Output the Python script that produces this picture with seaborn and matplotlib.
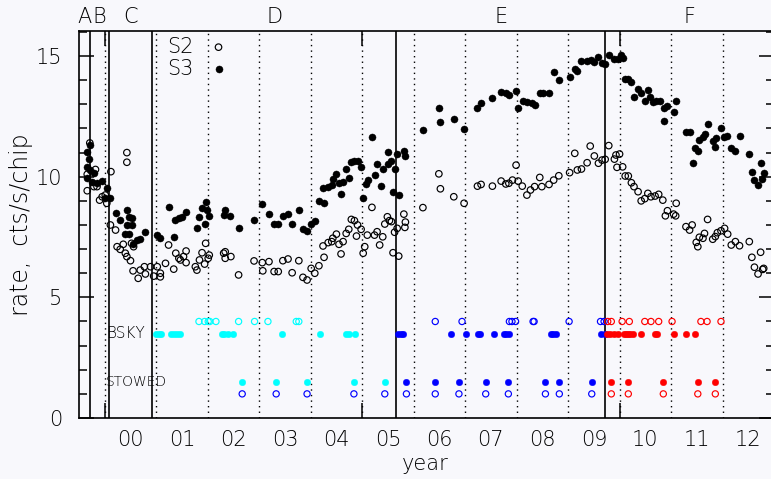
import matplotlib
matplotlib.use("Agg")
import matplotlib.pyplot as plt
import matplotlib.transforms as mtransforms
import pandas as pd
import seaborn as sns

# ---- S3 chip background rate (filled) ----
s3_year = [1999.66, 1999.71, 1999.69, 1999.66, 1999.72, 1999.79, 1999.66, 1999.75, 1999.85, 1999.94,
           2000.04, 2000.01, 2000.11, 2000.22, 2000.30, 2000.43, 2000.47, 2000.53, 2000.43, 2000.53,
           2000.40, 2000.47, 2000.54, 2000.63, 2000.69, 2000.79, 2001.02, 2001.08, 2001.24, 2001.34,
           2001.37, 2001.44, 2001.50, 2001.57, 2001.79, 2001.84, 2001.89, 2001.96, 2001.98, 2001.94,
           2002.02, 2002.34, 2002.31, 2002.43, 2002.60, 2002.90, 2003.06, 2003.19, 2003.29, 2003.37,
           2003.46, 2003.56, 2003.64, 2003.77, 2003.85, 2003.92, 2004.01, 2004.08, 2004.16, 2004.26,
           2004.24, 2004.34, 2004.41, 2004.43, 2004.50, 2004.56, 2004.63, 2004.59, 2004.69, 2004.74,
           2004.78, 2004.84, 2004.91, 2004.98, 2005.02, 2005.08, 2005.11, 2005.24, 2005.20, 2005.29,
           2005.36, 2005.40, 2005.50, 2005.51, 2005.57, 2005.60, 2005.63, 2005.68, 2005.71, 2005.81,
           2005.84, 2006.18, 2006.49, 2006.52, 2006.78, 2006.98, 2007.24, 2007.31, 2007.53, 2007.70,
           2007.79, 2007.86, 2007.98, 2008.03, 2008.12, 2008.21, 2008.29, 2008.35, 2008.45, 2008.51,
           2008.63, 2008.72, 2008.83, 2009.03, 2009.13, 2009.18, 2009.26, 2009.37, 2009.44, 2009.51,
           2009.59, 2009.66, 2009.71, 2009.79, 2009.90, 2009.97, 2010.02, 2010.06, 2010.11, 2010.17,
           2010.23, 2010.28, 2010.36, 2010.42, 2010.50, 2010.55, 2010.60, 2010.65, 2010.71, 2010.78,
           2010.86, 2010.93, 2010.87, 2011.05, 2011.10, 2011.29, 2011.36, 2011.42, 2011.47, 2011.52,
           2011.55, 2011.62, 2011.66, 2011.71, 2011.81, 2011.88, 2011.86, 2011.97, 2012.03, 2012.09,
           2012.17, 2012.25, 2012.33, 2012.52, 2012.57, 2012.62, 2012.68, 2012.74, 2012.77, 2012.80]
s3_rate = [11.04, 11.31, 10.73, 10.41, 10.28, 10.15, 9.93, 9.79, 9.72, 9.82,
           9.52, 9.10, 9.10, 8.48, 8.20, 8.62, 8.34, 8.30, 8.00, 8.00,
           7.61, 7.61, 7.20, 7.38, 7.42, 7.70, 7.58, 7.45, 8.73, 7.49,
           8.20, 8.28, 8.34, 8.55, 7.89, 8.34, 8.69, 8.96, 8.64, 8.04,
           8.38, 8.64, 8.41, 8.38, 7.86, 8.20, 8.86, 8.45, 8.04, 8.04,
           8.37, 8.45, 8.03, 8.62, 7.82, 7.75, 8.04, 8.18, 9.00, 8.92,
           9.52, 9.59, 9.66, 9.90, 10.11, 9.73, 9.79, 9.27, 10.34, 9.96,
           10.60, 10.66, 10.65, 10.39, 9.13, 9.68, 9.86, 10.07, 11.63, 10.51,
           9.61, 10.30, 10.51, 11.04, 10.65, 9.38, 10.34, 10.94, 9.24, 11.08,
           10.86, 11.94, 12.83, 12.28, 12.38, 11.98, 12.86, 13.07, 13.25, 13.52,
           13.48, 13.39, 13.56, 12.83, 13.15, 13.11, 13.04, 12.97, 13.46, 13.48,
           13.48, 14.32, 14.00, 14.14, 14.45, 14.38, 14.78, 14.80, 14.84, 14.74,
           14.98, 14.73, 14.67, 15.06, 14.90, 14.90, 15.04, 14.93, 14.07, 14.05,
           13.94, 13.32, 13.62, 13.48, 13.14, 13.58, 13.32, 13.11, 13.14, 13.15,
           12.83, 12.93, 12.32, 12.69, 13.14, 11.87, 11.87, 10.58, 11.21, 11.06,
           11.52, 11.66, 11.77, 12.17, 11.50, 11.59, 11.24, 12.00, 11.63, 11.69,
           11.18, 11.06, 11.70, 10.94, 10.21, 9.86, 9.66, 10.58, 9.89, 10.14]

# ---- S2 chip background rate (open) ----
s2_year = [1999.71, 1999.66, 1999.82, 1999.66, 1999.79, 1999.85, 1999.90, 1999.95, 2000.01, 2000.04,
           2000.12, 2000.43, 2000.43, 2000.11, 2000.21, 2000.24, 2000.30, 2000.36, 2000.40, 2000.43,
           2000.50, 2000.52, 2000.56, 2000.55, 2000.65, 2000.69, 2000.77, 2000.79, 2000.89, 2000.95,
           2001.02, 2001.08, 2001.08, 2001.18, 2001.24, 2001.34, 2001.38, 2001.44, 2001.47, 2001.53,
           2001.58, 2001.58, 2001.76, 2001.79, 2001.84, 2001.89, 2001.94, 2001.96, 2002.01, 2002.03,
           2002.31, 2002.34, 2002.34, 2002.45, 2002.60, 2002.90, 2003.06, 2003.07, 2003.19, 2003.29,
           2003.37, 2003.46, 2003.56, 2003.64, 2003.77, 2003.85, 2003.93, 2004.01, 2004.08, 2004.16,
           2004.26, 2004.24, 2004.34, 2004.41, 2004.43, 2004.50, 2004.55, 2004.59, 2004.63, 2004.69,
           2004.74, 2004.79, 2004.85, 2004.91, 2004.89, 2004.98, 2005.02, 2005.05, 2005.10, 2005.19,
           2005.24, 2005.29, 2005.34, 2005.40, 2005.44, 2005.49, 2005.53, 2005.57, 2005.63, 2005.68,
           2005.60, 2005.71, 2005.81, 2005.84, 2005.83, 2006.18, 2006.49, 2006.52, 2006.78, 2006.98,
           2007.24, 2007.31, 2007.53, 2007.70, 2007.79, 2007.85, 2007.92, 2007.99, 2008.03, 2008.11,
           2008.20, 2008.27, 2008.35, 2008.45, 2008.49, 2008.63, 2008.72, 2008.82, 2009.03, 2009.13,
           2009.18, 2009.26, 2009.37, 2009.43, 2009.51, 2009.59, 2009.66, 2009.72, 2009.79, 2009.90,
           2009.93, 2010.00, 2009.95, 2010.06, 2010.11, 2010.17, 2010.23, 2010.28, 2010.36, 2010.42,
           2010.49, 2010.55, 2010.61, 2010.69, 2010.76, 2010.84, 2010.89, 2010.93, 2011.05, 2011.09,
           2011.10, 2011.29, 2011.36, 2011.41, 2011.49, 2011.52, 2011.55, 2011.62, 2011.65, 2011.71,
           2011.81, 2011.86, 2011.90, 2011.97, 2012.04, 2012.10, 2012.17, 2012.25, 2012.33, 2012.52,
           2012.57, 2012.62, 2012.69, 2012.74, 2012.78, 2012.80]
s2_rate = [11.40, 10.10, 10.30, 9.42, 9.59, 9.59, 9.03, 9.17, 9.24, 8.90,
           10.21, 11.00, 10.60, 8.00, 7.79, 7.10, 6.99, 7.20, 6.83, 6.69,
           6.52, 7.24, 7.10, 6.10, 5.79, 6.13, 6.27, 5.97, 6.27, 5.88,
           6.27, 6.00, 5.85, 6.41, 7.17, 6.17, 6.83, 6.62, 6.55, 6.69,
           6.92, 6.44, 6.27, 6.13, 6.55, 6.85, 6.38, 7.24, 6.62, 6.75,
           6.83, 6.89, 6.62, 6.69, 5.93, 6.51, 6.44, 6.10, 6.48, 6.07,
           6.07, 6.52, 6.59, 6.02, 6.52, 5.83, 5.72, 6.20, 6.00, 6.31,
           6.66, 7.13, 7.27, 7.31, 7.45, 7.62, 7.20, 6.80, 7.31, 7.65,
           7.82, 8.23, 8.18, 8.00, 7.54, 7.82, 6.83, 7.10, 7.58, 8.73,
           7.58, 7.72, 7.17, 7.51, 8.04, 8.34, 8.18, 8.14, 7.70, 7.86,
           6.85, 6.71, 8.45, 8.12, 7.90, 8.72, 10.12, 9.50, 9.17, 8.90,
           9.61, 9.68, 9.61, 9.82, 9.70, 9.73, 9.86, 10.48, 9.82, 9.61,
           9.24, 9.45, 9.59, 9.97, 9.59, 9.68, 9.86, 10.04, 10.17, 10.97,
           10.28, 10.32, 10.58, 11.27, 10.86, 10.56, 10.69, 10.72, 11.29, 10.73,
           10.90, 10.94, 10.39, 10.41, 10.03, 10.03, 9.75, 9.59, 9.38, 9.00,
           9.09, 9.31, 9.17, 9.20, 9.27, 9.03, 8.38, 8.59, 8.45, 8.38,
           8.90, 7.93, 7.79, 8.00, 7.28, 7.10, 7.49, 7.45, 7.65, 8.23,
           7.41, 7.52, 7.68, 7.76, 7.86, 7.62, 7.17, 7.31, 7.14, 7.31,
           6.66, 6.25, 5.97, 6.87, 6.16, 6.20]

# ---- observation epochs: blank-sky (BSKY) and stowed (STOWED) datasets ----
bsky_s3_d = [2001.00, 2001.05, 2001.10, 2001.29, 2001.35, 2001.40, 2001.46, 2002.27, 2002.32,
             2002.40, 2002.49, 2003.44, 2004.19, 2004.69, 2004.74, 2004.87]
bsky_s3_e = [2005.70, 2005.75, 2005.79, 2006.73, 2007.01, 2007.25, 2007.28, 2007.57, 2007.75,
             2007.80, 2007.85, 2008.67, 2008.70, 2008.76, 2009.64, 2009.72]
bsky_s3_f = [2009.75, 2009.81, 2009.90, 2009.97, 2010.08, 2010.12, 2010.16, 2010.21, 2010.26,
             2010.42, 2010.68, 2010.72, 2011.05, 2011.29, 2011.47]
bsky_s2_d = [2001.83, 2001.94, 2002.01, 2002.04, 2002.16, 2002.60, 2002.91, 2003.17, 2003.72, 2003.77]
bsky_s2_e = [2006.42, 2006.94, 2007.86, 2007.91, 2007.98, 2008.32, 2008.34, 2009.02, 2009.63, 2009.70]
bsky_s2_f = [2009.77, 2009.84, 2010.05, 2010.19, 2010.49, 2010.61, 2010.76, 2011.02, 2011.58,
             2011.70, 2011.97]
stowed_d = [2002.67, 2003.33, 2003.93, 2004.84, 2005.44]
stowed_e = [2005.86, 2006.42, 2006.88, 2007.40, 2007.84, 2008.56, 2008.83, 2009.46]
stowed_f = [2009.84, 2010.17, 2010.85, 2011.52, 2011.86]

# row heights of the epoch markers
bsky_s3_row, bsky_s2_row = 3.5, 4.0
stowed_s3_row, stowed_s2_row = 1.5, 1.0

# instrument eras and their boundaries
era_names = ["A", "B", "C", "D", "E", "F"]
era_edges = [1999.709, 2000.084, 2000.919, 2005.666, 2009.726]

year_ticks = list(range(2000, 2013))
year_labels = ["00", "01", "02", "03", "04", "05", "06", "07", "08", "09", "10", "11", "12"]

XMIN, XMAX = 1999.5, 2013.0
BG = "#f8f8fc"
INK = "#000000"
CYAN, BLUE, RED = "#00ffff", "#0000ff", "#ff0000"

sns.set_theme(style="white")
plt.rcParams["font.family"] = ["DejaVu Sans"]
plt.rcParams["font.weight"] = "light"

fig = plt.figure(figsize=(7.71, 4.79), dpi=100, facecolor=BG)
ax = fig.add_axes([79 / 771, 61 / 479, 695 / 771, 387 / 479])
ax.set_facecolor(BG)

# year grid and era boundaries
for yr in year_ticks:
    ax.axvline(yr, color="black", lw=1.0, ls=(0, (1, 3)), zorder=1)
for edge in era_edges:
    ax.axvline(edge, color="black", lw=1.2, zorder=1)

s3 = pd.DataFrame({"year": s3_year, "rate": s3_rate})
s2 = pd.DataFrame({"year": s2_year, "rate": s2_rate})

sns.scatterplot(data=s2, x="year", y="rate", ax=ax, s=22, marker="o",
                facecolor="none", edgecolor="black", linewidth=0.85, zorder=3)
sns.scatterplot(data=s3, x="year", y="rate", ax=ax, s=26, marker="o",
                color="black", edgecolor="black", linewidth=0.3, zorder=4)


def epoch_row(years, row, color, filled):
    df = pd.DataFrame({"year": years, "rate": [row] * len(years)})
    if filled:
        sns.scatterplot(data=df, x="year", y="rate", ax=ax, s=22, marker="o",
                        color=color, edgecolor=color, linewidth=0.3, zorder=4)
    else:
        sns.scatterplot(data=df, x="year", y="rate", ax=ax, s=20, marker="o",
                        facecolor="none", edgecolor=color, linewidth=0.85, zorder=4)


epoch_row(bsky_s3_d, bsky_s3_row, CYAN, True)
epoch_row(bsky_s3_e, bsky_s3_row, BLUE, True)
epoch_row(bsky_s3_f, bsky_s3_row, RED, True)
epoch_row(bsky_s2_d, bsky_s2_row, CYAN, False)
epoch_row(bsky_s2_e, bsky_s2_row, BLUE, False)
epoch_row(bsky_s2_f, bsky_s2_row, RED, False)
epoch_row(stowed_d, stowed_s3_row, CYAN, True)
epoch_row(stowed_e, stowed_s3_row, BLUE, True)
epoch_row(stowed_f, stowed_s3_row, RED, True)
epoch_row(stowed_d + stowed_e, stowed_s2_row, BLUE, False)
epoch_row(stowed_f, stowed_s2_row, RED, False)

# in-plot key
key = pd.DataFrame({"year": [2002.21], "rate": [15.37]})
sns.scatterplot(data=key, x="year", y="rate", ax=ax, s=22, marker="o",
                facecolor="none", edgecolor="black", linewidth=0.85, zorder=4)
key = pd.DataFrame({"year": [2002.21], "rate": [14.46]})
sns.scatterplot(data=key, x="year", y="rate", ax=ax, s=26, marker="o",
                color="black", edgecolor="black", linewidth=0.3, zorder=4)
ax.text(2001.22, 15.37, "S2", fontsize=15, va="center", ha="left", color=INK)
ax.text(2001.22, 14.46, "S3", fontsize=15, va="center", ha="left", color=INK)
ax.text(2000.02, bsky_s3_row, "BSKY", fontsize=11, va="center", ha="left", color=INK)
ax.text(2000.02, stowed_s3_row, "STOWED", fontsize=10, va="center", ha="left", color=INK)

# era letters above the frame
bounds = [XMIN] + era_edges + [XMAX]
trans = mtransforms.blended_transform_factory(ax.transData, ax.transAxes)
for name, lo, hi in zip(era_names, bounds[:-1], bounds[1:]):
    ax.text((lo + hi) / 2, 1.036, name, transform=trans, fontsize=15,
            ha="center", va="center", color=INK)

ax.set_xlim(XMIN, XMAX)
ax.set_ylim(0, 16.04)

# x: 5-year ticks on both edges, year labels centred inside each year
ax.set_xticks([2000, 2005, 2010])
ax.set_xticklabels([])
ax.set_xticks([y + 0.5 for y in year_ticks], minor=True)
ax.set_xticklabels(year_labels, minor=True)
ax.tick_params(axis="x", which="major", direction="in", length=11, width=1.1,
               top=True, bottom=True, color="black")
ax.tick_params(axis="x", which="minor", length=0, pad=8.5, labelsize=15,
               labelcolor=INK)

# y: ticks on both sides, labels every 5
ax.set_yticks([0, 5, 10, 15])
ax.set_yticks(range(0, 17), minor=True)
ax.tick_params(axis="y", which="major", direction="in", length=11, width=1.1,
               left=True, right=True, pad=12, labelsize=15, labelcolor=INK,
               color="black")
ax.tick_params(axis="y", which="minor", direction="in", length=6, width=1.1,
               left=True, right=True, color="black")

ax.set_xlabel("")
ax.set_ylabel("")
fig.text(425 / 771, 1 - 470 / 479, "year", fontsize=15, ha="center", va="baseline",
         color=INK)
fig.text(21 / 771, 1 - 225 / 479, "rate,  cts/s/chip", fontsize=17, rotation=90,
         ha="center", va="center", color=INK)

for sp in ax.spines.values():
    sp.set_color("black")
    sp.set_linewidth(1.2)
    sp.set_visible(True)

fig.savefig("out.png", dpi=100, facecolor=BG)
